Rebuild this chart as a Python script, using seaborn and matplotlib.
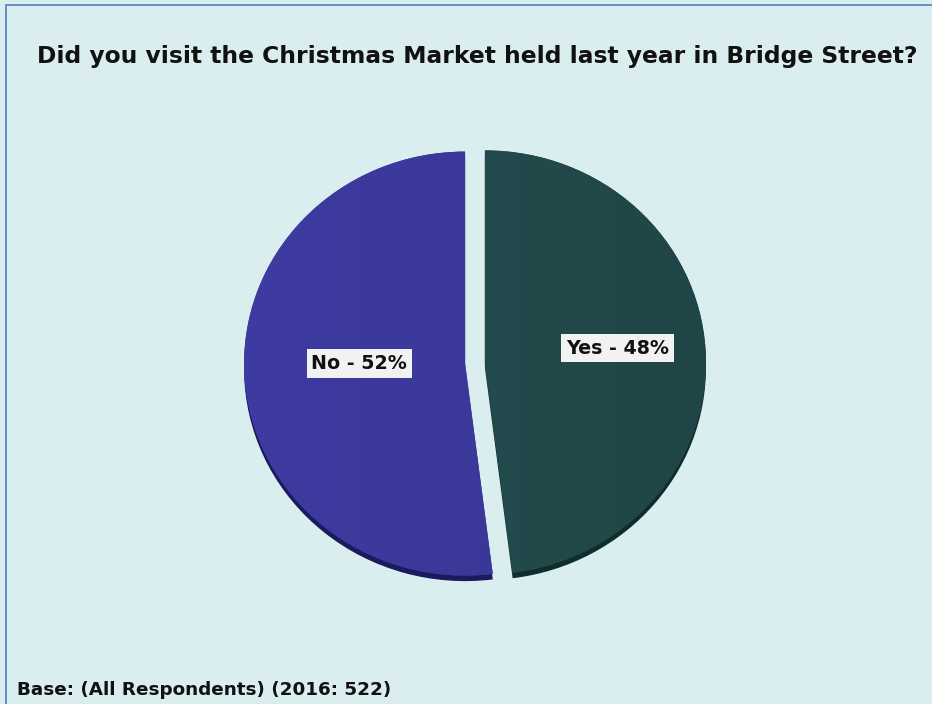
import matplotlib
matplotlib.use("Agg")
import matplotlib.pyplot as plt
from matplotlib.patches import Rectangle
import colorsys
import numpy as np
import seaborn as sns

# Survey data
categories = ["Yes", "No"]
shares = [48, 52]
title_text = "Did you visit the Christmas Market held last year in Bridge Street?"
base_text = "Base: (All Respondents) (2016: 522)"

sns.set_style("white")
plt.rcParams["font.family"] = ["DejaVu Sans"]

bg = "#DAEDEF"
face_colors = ["#234A4C", "#3A3898"]
side_colors = ["#102D2D", "#1B1A5C"]
label_dist = [0.60, 0.48]

W, H = 932, 704
fig = plt.figure(figsize=(W / 100, H / 100), dpi=100, facecolor=bg)

# outer frame
fig.patches.append(Rectangle((6 / W, -0.02), 1.05, 1 - 5 / H + 0.02,
                             transform=fig.transFigure, fill=False,
                             edgecolor="#5B86C0", linewidth=1.3))

# pie axes, slightly squashed vertically for a tilted look
rx, ry = 221, 212
cx, cy = 475, 704 - 363
half = 1.2
ax = fig.add_axes([(cx - half * rx) / W, (cy - half * ry) / H,
                   2 * half * rx / W, 2 * half * ry / H])
ax.set_facecolor("none")

explode = [0.045, 0.045]
# darker copy underneath gives the rim thickness
ax.pie(shares, colors=side_colors, startangle=90, counterclock=False,
       explode=explode, center=(0, -0.026), radius=1.0,
       wedgeprops=dict(linewidth=0))
wedges, _ = ax.pie(shares, colors=face_colors, startangle=90, counterclock=False,
                   explode=explode, radius=1.0,
                   wedgeprops=dict(linewidth=0))


def shade(c, f):
    h, l, s = colorsys.rgb_to_hls(*matplotlib.colors.to_rgb(c))
    return sns.set_hls_values(c, l=min(1.0, l * f))


# subtle horizontal shading across each slice
for w, c in zip(wedges, face_colors):
    grad = sns.blend_palette([shade(c, 1.07), c, shade(c, 0.93)], n_colors=64)
    im = ax.imshow(np.array([grad]), extent=[-1.1, 1.1, -1.1, 1.1], aspect="auto",
                   interpolation="bilinear", zorder=w.get_zorder() + 0.1)
    im.set_clip_path(w)

for w, cat, val, d in zip(wedges, categories, shares, label_dist):
    ang = np.deg2rad((w.theta1 + w.theta2) / 2)
    x0, y0 = w.center
    ax.text(x0 + d * np.cos(ang), y0 + d * np.sin(ang) + 0.03, f"{cat} - {val}%",
            ha="center", va="center", fontsize=13.7, fontweight="bold",
            color="#111111", zorder=10,
            bbox=dict(boxstyle="square,pad=0.25", facecolor="#F2F2F2",
                      edgecolor="none"))

ax.set_aspect("auto")
ax.set_xlim(-half, half)
ax.set_ylim(-half, half)
ax.axis("off")

fig.text(477.5 / W, 1 - 57 / H, title_text, ha="center", va="center",
         fontsize=16.8, fontweight="bold", color="#111111")
fig.text(17 / W, 1 - 690 / H, base_text, ha="left", va="center",
         fontsize=13.2, fontweight="bold", color="#111111")

fig.savefig("out.png", dpi=100, facecolor=bg)
